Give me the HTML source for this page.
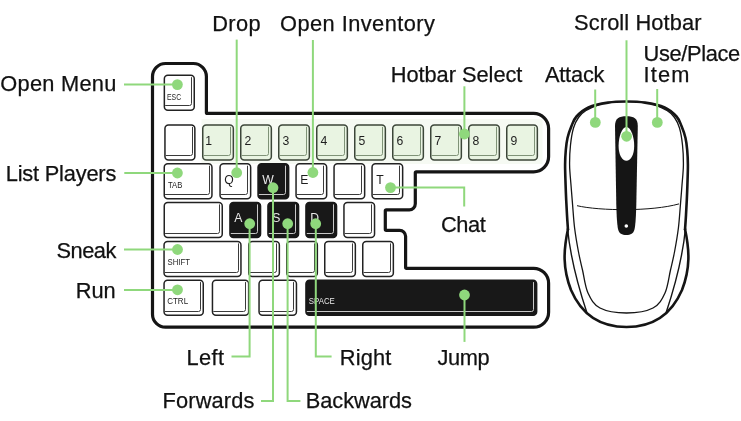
<!DOCTYPE html><html><head><meta charset="utf-8"><style>html,body{margin:0;padding:0;background:#fff;}svg{display:block}text{font-family:"Liberation Sans",sans-serif;}svg{will-change:transform}</style></head><body>
<svg width="741" height="421" viewBox="0 0 741 421">
<path d="M152.5,76.5 A13,13 0 0 1 165.5,63.5 L193.4,63.5 A13,13 0 0 1 206.4,76.5 L206.4,112.4 A1,1 0 0 0 207.4,113.4 L533.6,113.4 A15,15 0 0 1 548.6,128.4 L548.6,156.8 A15,15 0 0 1 533.6,171.8 L416.3,171.8 A1,1 0 0 0 415.3,172.8 L415.3,203.8 A6,6 0 0 1 409.3,209.8 L386.3,209.8 A1,1 0 0 0 385.3,210.8 L385.3,229.3 A1,1 0 0 0 386.3,230.3 L399.6,230.3 A6,6 0 0 1 405.6,236.3 L405.6,267.3 A1,1 0 0 0 406.6,268.3 L533.6,268.3 A15,15 0 0 1 548.6,283.3 L548.6,312.2 A15,15 0 0 1 533.6,327.2 L165.5,327.2 A13,13 0 0 1 152.5,314.2 Z" fill="#fff" stroke="#151515" stroke-width="3.2"/>
<rect x="201.5" y="119" width="341" height="45" fill="#f6faf3"/>
<rect x="164.35" y="75.35" width="29.900000000000006" height="34.80000000000001" rx="3.5" fill="#ffffff" stroke="#222222" stroke-width="1.5"/>
<path d="M191.5,77.19999999999999 L191.5,103.5 Q191.5,105.5 189.5,105.5 L165.2,105.5" fill="none" stroke="#3a3a3a" stroke-width="1"/>
<text x="167.00" y="99.8" font-size="8.6" fill="#1e1e1e" textLength="14.10" lengthAdjust="spacingAndGlyphs">ESC</text>
<rect x="164.95" y="125.05" width="29.900000000000006" height="35.000000000000014" rx="3.5" fill="#ffffff" stroke="#222222" stroke-width="1.5"/>
<path d="M192.5,126.89999999999999 L192.5,153.5 Q192.5,155.5 190.5,155.5 L165.79999999999998,155.5" fill="none" stroke="#3a3a3a" stroke-width="1"/>
<rect x="202.75" y="125.05" width="30.599999999999994" height="35.000000000000014" rx="3.5" fill="#e9f4e2" stroke="#3c4639" stroke-width="1.5"/>
<path d="M230.5,126.89999999999999 L230.5,153.5 Q230.5,155.5 228.5,155.5 L203.6,155.5" fill="none" stroke="#7f9277" stroke-width="1"/>
<text x="205.2" y="144.9" font-size="12.2" fill="#1e1e1e">1</text>
<rect x="240.75" y="125.05" width="30.600000000000023" height="35.000000000000014" rx="3.5" fill="#e9f4e2" stroke="#3c4639" stroke-width="1.5"/>
<path d="M268.5,126.89999999999999 L268.5,153.5 Q268.5,155.5 266.5,155.5 L241.6,155.5" fill="none" stroke="#7f9277" stroke-width="1"/>
<text x="244.5" y="144.9" font-size="12.2" fill="#1e1e1e">2</text>
<rect x="278.75" y="125.05" width="30.600000000000023" height="35.000000000000014" rx="3.5" fill="#e9f4e2" stroke="#3c4639" stroke-width="1.5"/>
<path d="M306.5,126.89999999999999 L306.5,153.5 Q306.5,155.5 304.5,155.5 L279.6,155.5" fill="none" stroke="#7f9277" stroke-width="1"/>
<text x="282.5" y="144.9" font-size="12.2" fill="#1e1e1e">3</text>
<rect x="316.75" y="125.05" width="30.600000000000023" height="35.000000000000014" rx="3.5" fill="#e9f4e2" stroke="#3c4639" stroke-width="1.5"/>
<path d="M344.5,126.89999999999999 L344.5,153.5 Q344.5,155.5 342.5,155.5 L317.6,155.5" fill="none" stroke="#7f9277" stroke-width="1"/>
<text x="320.5" y="144.9" font-size="12.2" fill="#1e1e1e">4</text>
<rect x="354.75" y="125.05" width="30.600000000000023" height="35.000000000000014" rx="3.5" fill="#e9f4e2" stroke="#3c4639" stroke-width="1.5"/>
<path d="M382.5,126.89999999999999 L382.5,153.5 Q382.5,155.5 380.5,155.5 L355.6,155.5" fill="none" stroke="#7f9277" stroke-width="1"/>
<text x="358.5" y="144.9" font-size="12.2" fill="#1e1e1e">5</text>
<rect x="392.75" y="125.05" width="30.600000000000023" height="35.000000000000014" rx="3.5" fill="#e9f4e2" stroke="#3c4639" stroke-width="1.5"/>
<path d="M420.5,126.89999999999999 L420.5,153.5 Q420.5,155.5 418.5,155.5 L393.6,155.5" fill="none" stroke="#7f9277" stroke-width="1"/>
<text x="396.5" y="144.9" font-size="12.2" fill="#1e1e1e">6</text>
<rect x="430.75" y="125.05" width="30.600000000000023" height="35.000000000000014" rx="3.5" fill="#e9f4e2" stroke="#3c4639" stroke-width="1.5"/>
<path d="M458.5,126.89999999999999 L458.5,153.5 Q458.5,155.5 456.5,155.5 L431.6,155.5" fill="none" stroke="#7f9277" stroke-width="1"/>
<text x="434.5" y="144.9" font-size="12.2" fill="#1e1e1e">7</text>
<rect x="468.75" y="125.05" width="30.600000000000023" height="35.000000000000014" rx="3.5" fill="#e9f4e2" stroke="#3c4639" stroke-width="1.5"/>
<path d="M496.5,126.89999999999999 L496.5,153.5 Q496.5,155.5 494.5,155.5 L469.6,155.5" fill="none" stroke="#7f9277" stroke-width="1"/>
<text x="472.5" y="144.9" font-size="12.2" fill="#1e1e1e">8</text>
<rect x="506.75" y="125.05" width="30.600000000000023" height="35.000000000000014" rx="3.5" fill="#e9f4e2" stroke="#3c4639" stroke-width="1.5"/>
<path d="M534.5,126.89999999999999 L534.5,153.5 Q534.5,155.5 532.5,155.5 L507.6,155.5" fill="none" stroke="#7f9277" stroke-width="1"/>
<text x="510.5" y="144.9" font-size="12.2" fill="#1e1e1e">9</text>
<rect x="164.25" y="163.85" width="47.69999999999999" height="35.0" rx="3.5" fill="#ffffff" stroke="#222222" stroke-width="1.5"/>
<path d="M209.5,165.7 L209.5,192.5 Q209.5,194.5 207.5,194.5 L165.1,194.5" fill="none" stroke="#3a3a3a" stroke-width="1"/>
<text x="168.00" y="188" font-size="8.6" fill="#1e1e1e" textLength="14.30" lengthAdjust="spacingAndGlyphs">TAB</text>
<rect x="220.05" y="163.85" width="30.599999999999994" height="35.0" rx="3.5" fill="#ffffff" stroke="#222222" stroke-width="1.5"/>
<path d="M247.5,165.7 L247.5,192.5 Q247.5,194.5 245.5,194.5 L220.9,194.5" fill="none" stroke="#3a3a3a" stroke-width="1"/>
<text x="224.3" y="183.7" font-size="12.2" fill="#1e1e1e">Q</text>
<rect x="258.05" y="163.85" width="30.600000000000023" height="35.0" rx="3.5" fill="#181818" stroke="#181818" stroke-width="1.5"/>
<path d="M285.5,165.7 L285.5,192.5 Q285.5,194.5 283.5,194.5 L258.90000000000003,194.5" fill="none" stroke="#c8c8c8" stroke-width="1"/>
<text x="262.3" y="183.7" font-size="12.2" fill="#e8e8e8">W</text>
<rect x="296.05" y="163.85" width="30.600000000000023" height="35.0" rx="3.5" fill="#ffffff" stroke="#222222" stroke-width="1.5"/>
<path d="M323.5,165.7 L323.5,192.5 Q323.5,194.5 321.5,194.5 L296.90000000000003,194.5" fill="none" stroke="#3a3a3a" stroke-width="1"/>
<text x="300.3" y="183.7" font-size="12.2" fill="#1e1e1e">E</text>
<rect x="334.05" y="163.85" width="30.600000000000023" height="35.0" rx="3.5" fill="#ffffff" stroke="#222222" stroke-width="1.5"/>
<path d="M361.5,165.7 L361.5,192.5 Q361.5,194.5 359.5,194.5 L334.90000000000003,194.5" fill="none" stroke="#3a3a3a" stroke-width="1"/>
<rect x="372.05" y="163.85" width="30.600000000000023" height="35.0" rx="3.5" fill="#ffffff" stroke="#222222" stroke-width="1.5"/>
<path d="M399.5,165.7 L399.5,192.5 Q399.5,194.5 397.5,194.5 L372.90000000000003,194.5" fill="none" stroke="#3a3a3a" stroke-width="1"/>
<text x="376.3" y="183.7" font-size="12.2" fill="#1e1e1e">T</text>
<rect x="164.25" y="202.55" width="58.0" height="35.0" rx="3.5" fill="#ffffff" stroke="#222222" stroke-width="1.5"/>
<path d="M219.5,204.4 L219.5,231.5 Q219.5,233.5 217.5,233.5 L165.1,233.5" fill="none" stroke="#3a3a3a" stroke-width="1"/>
<rect x="229.95" y="202.55" width="30.600000000000023" height="35.0" rx="3.5" fill="#181818" stroke="#181818" stroke-width="1.5"/>
<path d="M257.5,204.4 L257.5,231.5 Q257.5,233.5 255.5,233.5 L230.79999999999998,233.5" fill="none" stroke="#c8c8c8" stroke-width="1"/>
<text x="234.2" y="222.4" font-size="12.2" fill="#e8e8e8">A</text>
<rect x="267.95" y="202.55" width="30.600000000000023" height="35.0" rx="3.5" fill="#181818" stroke="#181818" stroke-width="1.5"/>
<path d="M295.5,204.4 L295.5,231.5 Q295.5,233.5 293.5,233.5 L268.8,233.5" fill="none" stroke="#c8c8c8" stroke-width="1"/>
<text x="272.2" y="222.4" font-size="12.2" fill="#e8e8e8">S</text>
<rect x="305.95" y="202.55" width="30.600000000000023" height="35.0" rx="3.5" fill="#181818" stroke="#181818" stroke-width="1.5"/>
<path d="M333.5,204.4 L333.5,231.5 Q333.5,233.5 331.5,233.5 L306.8,233.5" fill="none" stroke="#c8c8c8" stroke-width="1"/>
<text x="310.2" y="222.4" font-size="12.2" fill="#e8e8e8">D</text>
<rect x="343.95" y="202.55" width="30.600000000000023" height="35.0" rx="3.5" fill="#ffffff" stroke="#222222" stroke-width="1.5"/>
<path d="M371.5,204.4 L371.5,231.5 Q371.5,233.5 369.5,233.5 L344.8,233.5" fill="none" stroke="#3a3a3a" stroke-width="1"/>
<rect x="164.05" y="241.55" width="76.89999999999998" height="35.0" rx="3.5" fill="#ffffff" stroke="#222222" stroke-width="1.5"/>
<path d="M238.5,243.4 L238.5,270.5 Q238.5,272.5 236.5,272.5 L164.9,272.5" fill="none" stroke="#3a3a3a" stroke-width="1"/>
<text x="167.60" y="265.3" font-size="8.6" fill="#1e1e1e" textLength="22.40" lengthAdjust="spacingAndGlyphs">SHIFT</text>
<rect x="248.75" y="241.55" width="30.600000000000023" height="35.0" rx="3.5" fill="#ffffff" stroke="#222222" stroke-width="1.5"/>
<path d="M276.5,243.4 L276.5,270.5 Q276.5,272.5 274.5,272.5 L249.6,272.5" fill="none" stroke="#3a3a3a" stroke-width="1"/>
<rect x="286.75" y="241.55" width="30.600000000000023" height="35.0" rx="3.5" fill="#ffffff" stroke="#222222" stroke-width="1.5"/>
<path d="M314.5,243.4 L314.5,270.5 Q314.5,272.5 312.5,272.5 L287.6,272.5" fill="none" stroke="#3a3a3a" stroke-width="1"/>
<rect x="324.75" y="241.55" width="30.600000000000023" height="35.0" rx="3.5" fill="#ffffff" stroke="#222222" stroke-width="1.5"/>
<path d="M352.5,243.4 L352.5,270.5 Q352.5,272.5 350.5,272.5 L325.6,272.5" fill="none" stroke="#3a3a3a" stroke-width="1"/>
<rect x="362.75" y="241.55" width="30.600000000000023" height="35.0" rx="3.5" fill="#ffffff" stroke="#222222" stroke-width="1.5"/>
<path d="M390.5,243.4 L390.5,270.5 Q390.5,272.5 388.5,272.5 L363.6,272.5" fill="none" stroke="#3a3a3a" stroke-width="1"/>
<rect x="164.05" y="280.25" width="39.19999999999999" height="35.0" rx="3.5" fill="#ffffff" stroke="#222222" stroke-width="1.5"/>
<path d="M200.5,282.1 L200.5,309.5 Q200.5,311.5 198.5,311.5 L164.9,311.5" fill="none" stroke="#3a3a3a" stroke-width="1"/>
<text x="167.20" y="304" font-size="8.6" fill="#1e1e1e" textLength="20.90" lengthAdjust="spacingAndGlyphs">CTRL</text>
<rect x="212.45" y="280.25" width="36.20000000000002" height="35.0" rx="3.5" fill="#ffffff" stroke="#222222" stroke-width="1.5"/>
<path d="M245.5,282.1 L245.5,309.5 Q245.5,311.5 243.5,311.5 L213.29999999999998,311.5" fill="none" stroke="#3a3a3a" stroke-width="1"/>
<rect x="259.05" y="280.25" width="37.39999999999998" height="35.0" rx="3.5" fill="#ffffff" stroke="#222222" stroke-width="1.5"/>
<path d="M293.5,282.1 L293.5,309.5 Q293.5,311.5 291.5,311.5 L259.90000000000003,311.5" fill="none" stroke="#3a3a3a" stroke-width="1"/>
<rect x="305.95" y="280.25" width="230.7" height="35.0" rx="3.5" fill="#181818" stroke="#181818" stroke-width="1.5"/>
<path d="M533.5,282.1 L533.5,309.5 Q533.5,311.5 531.5,311.5 L306.8,311.5" fill="none" stroke="#c8c8c8" stroke-width="1"/>
<text x="308.80" y="304.1" font-size="8.6" fill="#e8e8e8" textLength="26.00" lengthAdjust="spacingAndGlyphs">SPACE</text>
<path d="M568.00,230.00 C567.83,227.50 567.30,220.00 567.00,215.00 C566.70,210.00 566.43,205.00 566.20,200.00 C565.97,195.00 565.78,190.83 565.60,185.00 C565.42,179.17 565.07,170.83 565.10,165.00 C565.13,159.17 565.40,154.50 565.80,150.00 C566.20,145.50 566.55,142.00 567.50,138.00 C568.45,134.00 570.00,129.58 571.50,126.00 C573.00,122.42 573.68,119.58 576.50,116.50 C579.32,113.42 583.15,109.82 588.40,107.50 C593.65,105.18 601.65,103.60 608.00,102.60 C614.35,101.60 620.33,101.50 626.50,101.50 C632.67,101.50 638.65,101.60 645.00,102.60 C651.35,103.60 659.35,105.18 664.60,107.50 C669.85,109.82 673.68,113.42 676.50,116.50 C679.32,119.58 680.00,122.42 681.50,126.00 C683.00,129.58 684.55,134.00 685.50,138.00 C686.45,142.00 686.80,145.50 687.20,150.00 C687.60,154.50 687.87,159.17 687.90,165.00 C687.93,170.83 687.58,179.17 687.40,185.00 C687.22,190.83 687.03,195.00 686.80,200.00 C686.57,205.00 686.30,210.00 686.00,215.00 C685.70,220.00 685.17,227.50 685.00,230.00" fill="none" stroke="#151515" stroke-width="2.6"/>
<path d="M568,229 C563.5,250 562.5,268 571,290 C583,318 604,327 626.5,327 C649.0,327 670.0,318 682.0,290 C690.5,268 689.5,250 685.0,229" fill="none" stroke="#151515" stroke-width="2.6"/>
<path d="M567.5,228 Q571,265 587,313 M685.5,228 Q682.0,265 666.0,313" fill="none" stroke="#151515" stroke-width="1.4"/>
<path d="M600.00,104.20 C597.67,105.25 589.58,108.28 586.00,110.50 C582.42,112.72 580.58,114.58 578.50,117.50 C576.42,120.42 574.83,123.42 573.50,128.00 C572.17,132.58 571.15,138.83 570.50,145.00 C569.85,151.17 569.52,158.33 569.60,165.00 C569.68,171.67 570.50,178.33 571.00,185.00 C571.50,191.67 572.00,197.83 572.60,205.00 C573.20,212.17 573.62,220.17 574.60,228.00 C575.58,235.83 577.18,245.00 578.50,252.00 C579.82,259.00 580.92,263.17 582.50,270.00 C584.08,276.83 585.08,286.67 588.00,293.00 C590.92,299.33 593.58,304.67 600.00,308.00 C606.42,311.33 617.67,313.00 626.50,313.00 C635.33,313.00 646.58,311.33 653.00,308.00 C659.42,304.67 662.08,299.33 665.00,293.00 C667.92,286.67 668.92,276.83 670.50,270.00 C672.08,263.17 673.18,259.00 674.50,252.00 C675.82,245.00 677.42,235.83 678.40,228.00 C679.38,220.17 679.80,212.17 680.40,205.00 C681.00,197.83 681.50,191.67 682.00,185.00 C682.50,178.33 683.32,171.67 683.40,165.00 C683.48,158.33 683.15,151.17 682.50,145.00 C681.85,138.83 680.83,132.58 679.50,128.00 C678.17,123.42 676.58,120.42 674.50,117.50 C672.42,114.58 670.58,112.72 667.00,110.50 C663.42,108.28 655.33,105.25 653.00,104.20" fill="none" stroke="#151515" stroke-width="1.3"/>
<path d="M577,205.7 C600,211 652,211.5 679,203.9" fill="none" stroke="#151515" stroke-width="1"/>
<path d="M615,126 C615,118.5 619,116.3 626.4,116.3 C633.8,116.3 637.8,118.5 637.8,126 L636.3,205 C636,215 635.6,224 634.6,229 C633.6,233.6 630.5,235 626.3,235 C622,235 619,233.6 618,229 C617,224 616.6,215 616.3,205 Z" fill="#151515"/>
<path d="M626.4,127 C631,127 634.2,137 634.2,146 C634.2,155 630.5,160.8 626.4,160.8 C622.3,160.8 618.6,155 618.6,146 C618.6,137 621.8,127 626.4,127 Z" fill="#fff"/>
<circle cx="626.3" cy="226" r="1.8" fill="#fff"/>
<path d="M124,84.6 L177.4,84.6" fill="none" stroke="#8fd87c" stroke-width="2"/>
<path d="M236.7,39.6 L236.7,172.7" fill="none" stroke="#8fd87c" stroke-width="2"/>
<path d="M312.9,40 L312.9,172.5" fill="none" stroke="#8fd87c" stroke-width="2"/>
<path d="M464.4,86.3 L464.4,134" fill="none" stroke="#8fd87c" stroke-width="2"/>
<path d="M124.3,173 L177.4,173" fill="none" stroke="#8fd87c" stroke-width="2"/>
<path d="M124,249.5 L177.5,249.5" fill="none" stroke="#8fd87c" stroke-width="2"/>
<path d="M124,290 L177.5,290" fill="none" stroke="#8fd87c" stroke-width="2"/>
<path d="M390.5,187.6 L464.2,187.6 L464.2,206.6" fill="none" stroke="#8fd87c" stroke-width="2"/>
<path d="M249.6,223.7 L249.6,356.6 L231.5,356.6" fill="none" stroke="#8fd87c" stroke-width="2"/>
<path d="M273,187.7 L273,400.9 L261,400.9" fill="none" stroke="#8fd87c" stroke-width="2"/>
<path d="M287.6,223.7 L287.6,400.9 L300.4,400.9" fill="none" stroke="#8fd87c" stroke-width="2"/>
<path d="M315.8,223.7 L315.8,356.6 L331.6,356.6" fill="none" stroke="#8fd87c" stroke-width="2"/>
<path d="M464.5,295 L464.5,341.9" fill="none" stroke="#8fd87c" stroke-width="2"/>
<path d="M595.2,89.5 L595.2,122.4" fill="none" stroke="#8fd87c" stroke-width="2"/>
<path d="M626.5,40.3 L626.5,136.3" fill="none" stroke="#8fd87c" stroke-width="2"/>
<path d="M657.2,89 L657.2,122.4" fill="none" stroke="#8fd87c" stroke-width="2"/>
<circle cx="177.4" cy="84.6" r="5.4" fill="#8fd87c"/>
<circle cx="236.7" cy="172.7" r="5.4" fill="#8fd87c"/>
<circle cx="312.9" cy="172.5" r="5.4" fill="#8fd87c"/>
<circle cx="464.4" cy="134" r="5.4" fill="#8fd87c"/>
<circle cx="177.4" cy="173" r="5.4" fill="#8fd87c"/>
<circle cx="177.5" cy="249.5" r="5.4" fill="#8fd87c"/>
<circle cx="177.5" cy="289.8" r="5.4" fill="#8fd87c"/>
<circle cx="390.5" cy="187.6" r="5.4" fill="#8fd87c"/>
<circle cx="249.7" cy="223.7" r="5.4" fill="#8fd87c"/>
<circle cx="273" cy="187.7" r="5.4" fill="#8fd87c"/>
<circle cx="287.7" cy="223.7" r="5.4" fill="#8fd87c"/>
<circle cx="315.7" cy="223.7" r="5.4" fill="#8fd87c"/>
<circle cx="464.5" cy="295" r="5.4" fill="#8fd87c"/>
<circle cx="595.3" cy="122.4" r="5.4" fill="#8fd87c"/>
<circle cx="626.6" cy="136.3" r="5.4" fill="#8fd87c"/>
<circle cx="657.3" cy="122.4" r="5.4" fill="#8fd87c"/>
<text x="0.30" y="90.7" font-size="21.8" fill="#111111" stroke="#111111" stroke-width="0.25" textLength="116.00" lengthAdjust="spacing">Open Menu</text>
<text x="212.20" y="30.7" font-size="21.8" fill="#111111" stroke="#111111" stroke-width="0.25" textLength="48.50" lengthAdjust="spacing">Drop</text>
<text x="280.00" y="30.5" font-size="21.8" fill="#111111" stroke="#111111" stroke-width="0.25" textLength="154.90" lengthAdjust="spacing">Open Inventory</text>
<text x="574.10" y="30.3" font-size="21.8" fill="#111111" stroke="#111111" stroke-width="0.25" textLength="127.30" lengthAdjust="spacing">Scroll Hotbar</text>
<text x="390.70" y="81.9" font-size="21.8" fill="#111111" stroke="#111111" stroke-width="0.25" textLength="131.70" lengthAdjust="spacing">Hotbar Select</text>
<text x="544.90" y="82" font-size="21.8" fill="#111111" stroke="#111111" stroke-width="0.25" textLength="59.60" lengthAdjust="spacing">Attack</text>
<text x="643.60" y="61.2" font-size="21.8" fill="#111111" stroke="#111111" stroke-width="0.25" textLength="96.50" lengthAdjust="spacing">Use/Place</text>
<text x="643.60" y="82" font-size="21.8" fill="#111111" stroke="#111111" stroke-width="0.25" textLength="45.90" lengthAdjust="spacing">Item</text>
<text x="5.70" y="180.7" font-size="21.8" fill="#111111" stroke="#111111" stroke-width="0.25" textLength="110.60" lengthAdjust="spacing">List Players</text>
<text x="56.60" y="257.7" font-size="21.8" fill="#111111" stroke="#111111" stroke-width="0.25" textLength="59.70" lengthAdjust="spacing">Sneak</text>
<text x="75.80" y="297.6" font-size="21.8" fill="#111111" stroke="#111111" stroke-width="0.25" textLength="39.80" lengthAdjust="spacing">Run</text>
<text x="441.10" y="231.5" font-size="21.8" fill="#111111" stroke="#111111" stroke-width="0.25" textLength="44.60" lengthAdjust="spacing">Chat</text>
<text x="186.40" y="365" font-size="21.8" fill="#111111" stroke="#111111" stroke-width="0.25" textLength="37.70" lengthAdjust="spacing">Left</text>
<text x="339.80" y="364.9" font-size="21.8" fill="#111111" stroke="#111111" stroke-width="0.25" textLength="51.50" lengthAdjust="spacing">Right</text>
<text x="437.60" y="365" font-size="21.8" fill="#111111" stroke="#111111" stroke-width="0.25" textLength="52.00" lengthAdjust="spacing">Jump</text>
<text x="162.60" y="408" font-size="21.8" fill="#111111" stroke="#111111" stroke-width="0.25" textLength="91.70" lengthAdjust="spacing">Forwards</text>
<text x="305.80" y="408" font-size="21.8" fill="#111111" stroke="#111111" stroke-width="0.25" textLength="106.10" lengthAdjust="spacing">Backwards</text>
</svg></body></html>
